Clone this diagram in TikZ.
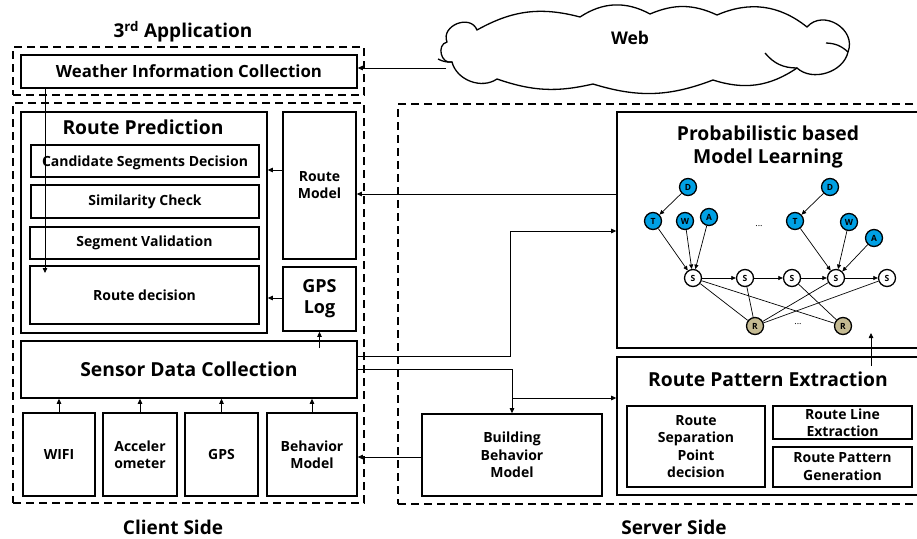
\documentclass[tikz,border=0pt]{standalone}
\usepackage{fontspec}
\setmainfont{Open Sans}
\usetikzlibrary{arrows.meta,fit}
\newcommand{\fsz}[2]{\fontsize{#1}{#2}\selectfont}
\definecolor{bnblue}{RGB}{0,160,228}
\definecolor{bntan}{RGB}{196,186,146}
\begin{document}
\begin{tikzpicture}[x=1pt,y=-1pt,
  box/.style={draw, line width=1.6pt, inner sep=0pt},
  dbox/.style={draw, line width=1.8pt, dash pattern=on 8pt off 5pt, inner sep=0pt},
  arr/.style={line width=0.8pt, -{Triangle[length=5pt,width=4.5pt]}},
  lbl/.style={inner sep=0pt, align=center},
  fsmall/.style={font=\bfseries\fsz{14}{17}},
  fbig/.style={font=\bfseries\fsz{19.3}{23}},
  bn/.style={circle, draw, line width=1.3pt, minimum size=17pt, inner sep=0pt, font=\fsz{8.5}{9}\bfseries},
  bnb/.style={bn, fill=bnblue},
  bnr/.style={bn, fill=bntan},
  bns/.style={bn, fill=white},
  bnarr/.style={line width=0.7pt, -{Triangle[length=4.5pt,width=4pt]}},
  bnln/.style={line width=0.7pt}]
\useasboundingbox (0,0) rectangle (917,538);

% ---------- dashed regions ----------
\node[dbox, fit={(13,47)(364,95)}] (app) {};
\node[dbox, fit={(13,103)(364,503)}] (client) {};
\node[dbox, fit={(398,104)(930,504)}] (server) {};

\node[lbl, font=\bfseries\fsz{19}{23}] (apptitle) at (183,32) {3\textsuperscript{rd} Application};
\node[lbl, font=\bfseries\fsz{19}{23}] (clientlbl) at (173,527) {Client Side};
\node[lbl, font=\bfseries\fsz{19}{23}] (serverlbl) at (674,527) {Server Side};

% ---------- cloud ----------
\draw[line width=1.3pt, fill=white]
  (447,42) to[bend left=90, looseness=1.4] (477,30)
  to[bend left=22] (580,17)
  to[bend left=31] (650,14)
  to[bend left=24] (717,15)
  to[bend left=31] (807,27)
  to[bend left=80, looseness=1.3] (848,52)
  to[bend left=60] (797,68)
  to[bend left=26] (713,80)
  to[bend left=19] (593,84)
  to[bend left=16] (497,79)
  to[bend left=55] (452,62)
  to[bend left=90, looseness=1.4] cycle;
\draw[line width=1.3pt] (452,62) to[bend left=15] (438,59);
\draw[line width=1.3pt] (797,68) to[bend left=25] (765,53);
\draw[line width=1.3pt] (848,52) to[bend right=20] (826,43);
\node[lbl, font=\bfseries\fsz{17.5}{20}] (web) at (630,38) {Web};

% ---------- client boxes ----------
\node[box, fit={(21,55)(357,88)}] (weather) {};
\node[lbl, font=\bfseries\fsz{16.8}{20}] (weathert) at (weather.center) {Weather Information Collection};
\node[box, fit={(21,112)(267,333)}] (rp) {};
\node[lbl, fbig] (rptitle) at (143,127) {Route Prediction};
\node[box, fit={(31,145)(259,177)}] (cand) {};
\node[lbl, fsmall] (candt) at ([yshift=-2pt]cand.center) {Candidate Segments Decision};
\node[box, fit={(31,185)(259,218)}] (sim) {};
\node[lbl, fsmall] (simt) at (sim.center) {Similarity Check};
\node[box, fit={(30,227)(259,259)}] (segval) {};
\node[lbl, fsmall] (segvalt) at (segval.center) {Segment Validation};
\node[box, fit={(30,266)(259,324)}] (rdec) {};
\node[lbl, fsmall] (rdect) at (rdec.center) {Route decision};
\node[box, fit={(283,112)(356,259)}] (rmodel) {};
\node[lbl, fsmall] (rmodelt) at (rmodel.center) {Route\\Model};
\node[box, fit={(283,267)(356,331)}] (gpslog) {};
\node[lbl, font=\bfseries\fsz{18}{21}] (gpslogt) at (gpslog.center) {GPS\\Log};
\node[box, fit={(21,341)(357,398)}] (sensor) {};
\node[lbl, fbig] (sensort) at (sensor.center) {Sensor Data Collection};
\node[box, fit={(23,413)(95,496)}] (wifi) {};
\node[lbl, fsmall] (wifit) at (wifi.center) {WIFI};
\node[box, fit={(103,413)(177,496)}] (acc) {};
\node[lbl, fsmall] (acct) at (acc.center) {Acceler\\ometer};
\node[box, fit={(185,413)(258,496)}] (gps) {};
\node[lbl, fsmall] (gpst) at (gps.center) {GPS};
\node[box, fit={(267,413)(357,496)}] (behav) {};
\node[lbl, fsmall] (behavt) at (behav.center) {Behavior\\Model};

% ---------- server boxes ----------
\node[box, fit={(617,112)(930,348)}] (prob) {};
\node[lbl, fbig] (probtitle) at (768,147) {Probabilistic based\\Model Learning};
\node[box, fit={(617,357)(930,495)}] (rpe) {};
\node[lbl, fbig] (rpetitle) at (768,379) {Route Pattern Extraction};
\node[box, fit={(627,406)(765,487)}] (rsep) {};
\node[lbl, font=\bfseries\fsz{14}{17.3}] (rsept) at (rsep.center) {Route\\Separation\\Point\\decision};
\node[box, fit={(773,406)(912,439)}] (rline) {};
\node[lbl, fsmall] (rlinet) at (rline.center) {Route Line\\Extraction};
\node[box, fit={(773,447)(912,487)}] (rpgen) {};
\node[lbl, font=\bfseries\fsz{14}{18}] (rpgent) at (rpgen.center) {Route Pattern\\Generation};
\node[box, fit={(422,414)(602,496)}] (bbm) {};
\node[lbl, font=\bfseries\fsz{14}{17.5}] (bbmt) at (bbm.center) {Building\\Behavior\\Model};

% ---------- Bayesian network ----------
\node[bnb] (d1) at (688,187) {D};
\node[bnb] (t1) at (653,221) {T};
\node[bnb] (w1) at (685,221) {W};
\node[bnb] (a1) at (709,217) {A};
\node[bnb] (d2) at (830,187) {D};
\node[bnb] (t2) at (795,221) {T};
\node[bnb] (w2) at (849,222) {W};
\node[bnb] (a2) at (874,238) {A};
\node[bns] (s1) at (693,278) {S};
\node[bns] (s2) at (745,278) {S};
\node[bns] (s3) at (792,278) {S};
\node[bns] (s4) at (836,278) {S};
\node[bns] (s5) at (887,278) {S};
\node[bnr] (r1) at (755,326) {R};
\node[bnr] (r2) at (843,326) {R};
\node[inner sep=0pt, font=\fsz{9}{10}] (dots1) at (759,226) {...};
\node[inner sep=0pt, font=\fsz{9}{10}] (dots2) at (798,324) {...};

\draw[bnarr] (d1) -- (t1);
\draw[bnarr] (t1) -- (s1);
\draw[bnarr] (w1) -- (s1);
\draw[bnarr] (a1) -- (s1);
\draw[bnarr] (d2) -- (t2);
\draw[bnarr] (t2) -- (s4);
\draw[bnarr] (w2) -- (s4);
\draw[bnarr] (a2) -- (s4);
\draw[bnarr] (s1) -- (s2);
\draw[bnarr] (s2) -- (s3);
\draw[bnarr] (s3) -- (s4);
\draw[bnarr] (s4) -- (s5);
\draw[bnln] (s1) -- (r1);
\draw[bnln] (s1) -- (r2);
\draw[bnln] (s2) -- (r1);
\draw[bnln] (s3) -- (r2);
\draw[bnln] (s4) -- (r1);
\draw[bnln] (s5) -- (r1);

% ---------- connectors ----------
\coordinate (cw) at (446,68);
\draw[arr] (cw) -- (weather.east |- cw);
\coordinate (wx) at (45,273);
\draw[arr] (wx |- weather.south) -- (wx);
\draw[arr] (rmodel.west |- 0,170) -- (rp.east |- 0,170);
\draw[arr] (gpslog.west |- 0,298) -- (rp.east |- 0,298);
\draw[arr] (gpslog.south |- 0,348) -- (gpslog.south);
\draw[arr] (wifi.north) -- (wifi.north |- sensor.south);
\draw[arr] (acc.north) -- (acc.north |- sensor.south);
\draw[arr] (gps.north) -- (gps.north |- sensor.south);
\draw[arr] (behav.north) -- (behav.north |- sensor.south);
\draw[arr] (prob.west |- 0,194) -- (rmodel.east |- 0,194);
\draw[arr] (sensor.east |- 0,356) -- (510,356) -- (510,231) -- (prob.west |- 0,231);
\draw[arr] (sensor.east |- 0,369) -- (bbm.north |- 0,369) -- (bbm.north);
\draw[arr] (bbm.north |- 0,398) -- (rpe.west |- 0,398);
\draw[arr] (bbm.west |- 0,457) -- (behav.east |- 0,457);
\coordinate (up) at (871,333);
\draw[arr] (up |- 0,366) -- (up);
\end{tikzpicture}
\end{document}
